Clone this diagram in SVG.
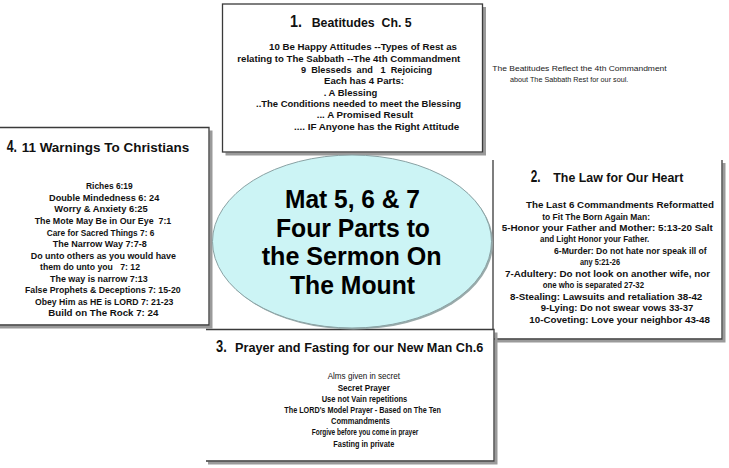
<svg xmlns="http://www.w3.org/2000/svg" width="729" height="468" viewBox="0 0 729 468" xml:space="preserve">
<style>
.t{font-family:"Liberation Sans",Arial,Helvetica,sans-serif;font-weight:bold;font-size:9.5px;fill:#111;white-space:pre}
.r{font-weight:normal}
.num{font-size:16px}
.hd{font-size:12.5px}
.big{font-size:25px;text-anchor:middle;fill:#000}
.note{font-size:7.5px;font-weight:normal;fill:#222}
.bg{fill:#fff;stroke:none}
.sh{fill:none;stroke:#9a9a9a;stroke-width:3}
.bd{fill:none;stroke:#3a3a3a;stroke-width:1.3}
</style>
<rect width="729" height="468" fill="#fff"/>
<g id="connectors"/>

<g id="node-1">
<rect class="bg" x="222.5" y="4" width="260" height="148"/>
<path class="sh" d="M484.5,7 V154 H225.5"/>
<rect class="bd" x="222.5" y="4" width="260" height="148"/>
<text class="t num" x="290" y="27" textLength="12" lengthAdjust="spacingAndGlyphs">1.</text>
<text class="t hd" x="311.7" y="27" textLength="100" lengthAdjust="spacingAndGlyphs">Beatitudes  Ch. 5</text>
<text class="t" x="269" y="50" textLength="188" lengthAdjust="spacingAndGlyphs">10 Be Happy Attitudes --Types of Rest as</text>
<text class="t" x="237.3" y="61.5" textLength="223" lengthAdjust="spacingAndGlyphs">relating to The Sabbath --The 4th Commandment</text>
<text class="t" x="301" y="72.7" textLength="131" lengthAdjust="spacingAndGlyphs">9  Blesseds  and   1  Rejoicing</text>
<text class="t" x="324" y="83.7" textLength="80" lengthAdjust="spacingAndGlyphs">Each has 4 Parts:</text>
<text class="t" x="323.7" y="95.5" textLength="53.6" lengthAdjust="spacingAndGlyphs">. A Blessing</text>
<text class="t" x="256" y="106.7" textLength="205" lengthAdjust="spacingAndGlyphs">..The Conditions needed to meet the Blessing</text>
<text class="t" x="316.7" y="118" textLength="96.6" lengthAdjust="spacingAndGlyphs">... A Promised Result</text>
<text class="t" x="294" y="129.5" textLength="165.3" lengthAdjust="spacingAndGlyphs">.... IF Anyone has the Right Attitude</text>
</g>

<g id="note">
<text class="t note" x="492.3" y="71" textLength="174.4" lengthAdjust="spacingAndGlyphs">The Beatitudes Reflect the 4th Commandment</text>
<text class="t note" x="510" y="81.7" textLength="118.3" lengthAdjust="spacingAndGlyphs">about The Sabbath Rest for our soul.</text>
</g>

<g id="node-4">
<rect class="bg" x="0" y="127.5" width="209" height="197.5"/>
<path class="sh" d="M211,130.5 V327 H0"/>
<path class="bd" d="M0,127.5 H209 V325 H0"/>
<text class="t num" x="6.7" y="151.7" textLength="10.3" lengthAdjust="spacingAndGlyphs">4.</text>
<text class="t hd" x="21.7" y="151.7" textLength="167.6" lengthAdjust="spacingAndGlyphs">11 Warnings To Christians</text>
<text class="t" x="86" y="189.3" textLength="46.7" lengthAdjust="spacingAndGlyphs">Riches 6:19</text>
<text class="t" x="49" y="201" textLength="110.3" lengthAdjust="spacingAndGlyphs">Double Mindedness 6: 24</text>
<text class="t" x="54.3" y="212.3" textLength="93.4" lengthAdjust="spacingAndGlyphs">Worry &amp; Anxiety 6:25</text>
<text class="t" x="34.7" y="224" textLength="136.6" lengthAdjust="spacingAndGlyphs">The Mote May Be in Our Eye  7:1</text>
<text class="t" x="46.7" y="235.7" textLength="107.6" lengthAdjust="spacingAndGlyphs">Care for Sacred Things 7: 6</text>
<text class="t" x="52.7" y="247.3" textLength="94" lengthAdjust="spacingAndGlyphs">The Narrow Way 7:7-8</text>
<text class="t" x="30.7" y="258.7" textLength="145.3" lengthAdjust="spacingAndGlyphs">Do unto others as you would have</text>
<text class="t" x="40" y="270.3" textLength="100" lengthAdjust="spacingAndGlyphs">them do unto you   7: 12</text>
<text class="t" x="50" y="281.7" textLength="97.7" lengthAdjust="spacingAndGlyphs">The way is narrow 7:13</text>
<text class="t" x="25" y="293.3" textLength="155.7" lengthAdjust="spacingAndGlyphs">False Prophets &amp; Deceptions 7: 15-20</text>
<text class="t" x="35" y="305" textLength="138.3" lengthAdjust="spacingAndGlyphs">Obey Him as HE is LORD 7: 21-23</text>
<text class="t" x="48.3" y="316.3" textLength="110" lengthAdjust="spacingAndGlyphs">Build on The Rock 7: 24</text>
</g>

<g id="node-2">
<rect class="bg" x="493" y="160" width="229" height="179"/>
<path class="sh" d="M724,163 V341 H496"/>
<path class="bd" d="M493,160 V339 H722 V160"/>
<text class="t num" x="530.7" y="182.3" textLength="9.8" lengthAdjust="spacingAndGlyphs">2.</text>
<text class="t hd" x="553.3" y="182.3" textLength="130" lengthAdjust="spacingAndGlyphs">The Law for Our Heart</text>
<text class="t" x="526" y="208.3" textLength="188" lengthAdjust="spacingAndGlyphs">The Last 6 Commandments Reformatted</text>
<text class="t" x="542.3" y="219.6" textLength="107.7" lengthAdjust="spacingAndGlyphs">to Fit The Born Again Man:</text>
<text class="t" x="501.7" y="231" textLength="211" lengthAdjust="spacingAndGlyphs">5-Honor your Father and Mother: 5:13-20 Salt</text>
<text class="t" x="540" y="242.3" textLength="109.3" lengthAdjust="spacingAndGlyphs">and Light Honor your Father.</text>
<text class="t" x="554" y="253.7" textLength="152.7" lengthAdjust="spacingAndGlyphs">6-Murder: Do not hate nor speak ill of</text>
<text class="t" x="580" y="265" textLength="40" lengthAdjust="spacingAndGlyphs">any 5:21-26</text>
<text class="t" x="505" y="277" textLength="205" lengthAdjust="spacingAndGlyphs">7-Adultery: Do not look on another wife, nor</text>
<text class="t" x="542.7" y="288.3" textLength="101.3" lengthAdjust="spacingAndGlyphs">one who is separated 27-32</text>
<text class="t" x="510" y="299.7" textLength="192.3" lengthAdjust="spacingAndGlyphs">8-Stealing: Lawsuits and retaliation 38-42</text>
<text class="t" x="540.7" y="311" textLength="152.6" lengthAdjust="spacingAndGlyphs">9-Lying: Do not swear vows 33-37</text>
<text class="t" x="529.3" y="322.7" textLength="180.7" lengthAdjust="spacingAndGlyphs">10-Coveting: Love your neighbor 43-48</text>
</g>

<g id="node-3">
<rect class="bg" x="206" y="329.5" width="288" height="131.5"/>
<path class="sh" d="M496,332.5 V463 H208"/>
<path class="bd" d="M206,329.5 H494 V461 H206"/>
<text class="t num" x="216" y="351.7" textLength="10.7" lengthAdjust="spacingAndGlyphs">3.</text>
<text class="t hd" x="235" y="351.7" textLength="248.3" lengthAdjust="spacingAndGlyphs">Prayer and Fasting for our New Man Ch.6</text>
<text class="t r" x="327.7" y="379.3" textLength="72.3" lengthAdjust="spacingAndGlyphs">Alms given in secret</text>
<text class="t" x="337.7" y="390.5" textLength="52.3" lengthAdjust="spacingAndGlyphs">Secret Prayer</text>
<text class="t" x="321.7" y="401.5" textLength="85.6" lengthAdjust="spacingAndGlyphs">Use not Vain repetitions</text>
<text class="t" x="284.3" y="412.6" textLength="156.7" lengthAdjust="spacingAndGlyphs">The LORD's Model Prayer - Based on The Ten</text>
<text class="t" x="331" y="423.8" textLength="59" lengthAdjust="spacingAndGlyphs">Commandments</text>
<text class="t" x="311.7" y="435.2" textLength="106.6" lengthAdjust="spacingAndGlyphs">Forgive before you come in prayer</text>
<text class="t" x="333.3" y="446.6" textLength="61" lengthAdjust="spacingAndGlyphs">Fasting in private</text>
</g>

<g id="node-center">
<ellipse cx="353.5" cy="243" rx="139.5" ry="86.5" fill="#9aaaaa"/>
<ellipse cx="352" cy="241.5" rx="139.5" ry="86.5" fill="#ccf4f5" stroke="#8aa2a4" stroke-width="1"/>
<text class="t big" x="352.5" y="208.3" textLength="135" lengthAdjust="spacingAndGlyphs">Mat 5, 6 &amp; 7</text>
<text class="t big" x="353" y="236.7" textLength="154" lengthAdjust="spacingAndGlyphs">Four Parts to</text>
<text class="t big" x="351.7" y="265.2" textLength="180" lengthAdjust="spacingAndGlyphs">the Sermon On</text>
<text class="t big" x="352.5" y="294" textLength="125" lengthAdjust="spacingAndGlyphs">The Mount</text>
</g>
</svg>
